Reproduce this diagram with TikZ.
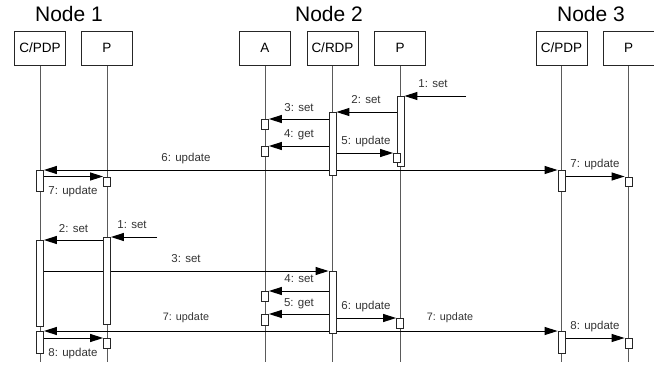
\documentclass[tikz,border=0pt]{standalone}
\usepackage{fontspec}
\setmainfont{Liberation Sans}
\usetikzlibrary{arrows.meta}
\usetikzlibrary{backgrounds}
\definecolor{lifegray}{HTML}{5A5A5A}
\definecolor{txtgray}{HTML}{333333}

\begin{document}
\begin{tikzpicture}[x=1pt,y=-1pt,>={Triangle[length=13pt,width=8pt]},
    head/.style={draw=black!85,fill=white,line width=0.8pt,minimum width=51pt,minimum height=34pt,inner sep=0pt,font=\fontsize{13.5}{15}\selectfont},
    act/.style={draw=black!85,fill=white,line width=0.8pt,minimum width=7pt,inner sep=0pt,anchor=north},
    life/.style={lifegray,line width=0.8pt},
    msg/.style={->,line width=1pt},
    lbl/.style={anchor=base,text=txtgray,inner sep=0pt,font=\fontsize{11.5}{13}\selectfont}]
    \useasboundingbox (0,0) rectangle (654,365);
    \foreach \n/\t/\x in {title1/Node 1/69,title2/Node 2/329,title3/Node 3/591}
        \node[anchor=base,inner sep=0pt,font=\fontsize{21}{24}\selectfont] (\n) at (\x,21.7) {\t};
    \foreach \n/\t/\x in {hC1/{C/PDP}/40,hP1/P/107,hA/A/265,hR/{C/RDP}/332.5,hP2/P/400,hC3/{C/PDP}/561.5,hP3/P/628.5}
        \node[head] (\n) at (\x,48) {\t};
    \coordinate (bottom) at (0,362);
    \foreach \n/\x/\y/\h in {aP1/400.5/96/70,aR1/332.5/112/63,bA1/265/119/10,bA2/265/146/10,bP1/397/153/9,
        aC1/40/170/21,bQ1/107/176.5/9.5,aD1/561.5/170/21,bS1/628.5/176.5/9.5,
        aQ2/107/237/87,aC2/40/240/86,aR2/332.5/271/62,bA3/265/291/10,bA4/265/314/11,bP2/400/318/10,
        aC3/40/331/22,bQ2/107/338/10,aD2/561.5/331/22,bS2/628.5/338/10}
        \node[act,minimum height=\h pt] (\n) at (\x,\y) {};
    \begin{scope}[on background layer]
        \foreach \n in {hC1,hP1,hA,hR,hP2,hC3,hP3}
            \draw[life] (\n.south) -- (\n.south |- bottom);
        \coordinate (in1) at (466,96);
        \draw[msg] (in1) -- (aP1.north east);
        \draw[msg] (aP1.west |- aR1.north) -- (aR1.north east);
        \draw[msg] (aR1.west |- bA1.north) -- (bA1.north east);
        \draw[msg] (aR1.west |- bA2.north) -- (bA2.north east);
        \draw[msg] (aR1.east |- bP1.north) -- (bP1.north west);
        \draw[msg,<->] (aC1.north east) -- (aD1.north west);
        \draw[msg] (aC1.east |- bQ1.north) -- (bQ1.north west);
        \draw[msg] (aD1.east |- bS1.north) -- (bS1.north west);
        \coordinate (in2) at (157,237);
        \draw[msg] (in2) -- (aQ2.north east);
        \draw[msg] (aQ2.west |- aC2.north) -- (aC2.north east);
        \draw[msg] (aC2.east |- aR2.north) -- (aR2.north west);
        \draw[msg] (aR2.west |- bA3.north) -- (bA3.north east);
        \draw[msg] (aR2.west |- bA4.north) -- (bA4.north east);
        \draw[msg] (aR2.east |- bP2.north) -- (bP2.north west);
        \draw[msg,<->] (aC3.north east) -- (aD2.north west);
        \draw[msg] (aC3.east |- bQ2.north) -- (bQ2.north west);
        \draw[msg] (aD2.east |- bS2.north) -- (bS2.north west);
    \end{scope}
    \foreach \n/\t/\x/\y in {l1/1: set/433/87,l2/2: set/366/103,l3/3: set/299/111,l4/4: get/299/137,
        l5/5: update/366/144,l6/6: update/186/161,l7a/7: update/73/194,l7b/7: update/595/167,
        m1/1: set/132/228,m2/2: set/73.5/232,m3/3: set/186/262,m4/4: set/299/282,m5/5: get/299/306,
        m6/6: update/366/309,m8a/8: update/73/356,m8b/8: update/595/329}
        \node[lbl] (\n) at (\x,\y) {\t};
    \foreach \n/\x in {m7a/186,m7b/450}
        \node[lbl,font=\fontsize{10.8}{12}\selectfont] (\n) at (\x,320) {7: update};
\end{tikzpicture}
\end{document}
